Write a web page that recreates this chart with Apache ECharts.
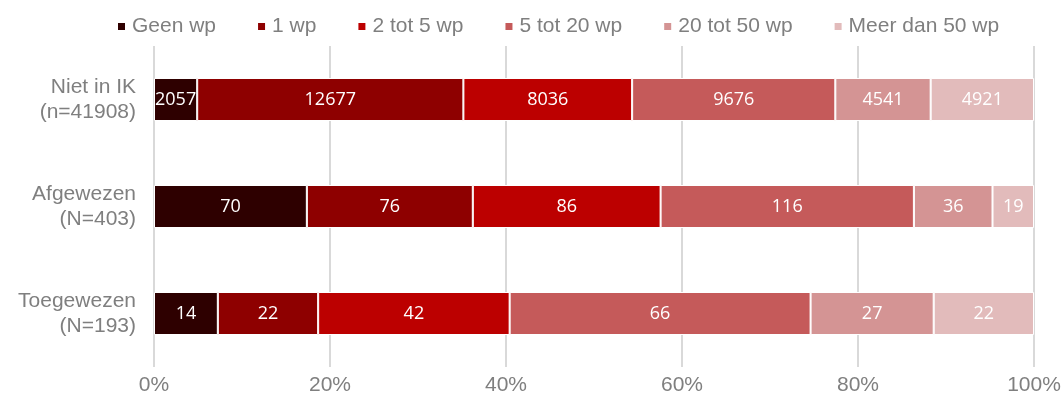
<!DOCTYPE html>
<html><head><meta charset="utf-8">
<script src="https://cdn.jsdelivr.net/npm/echarts@6/dist/echarts.min.js"></script>
<style>html,body{margin:0;padding:0;background:#fff}#c{width:1064px;height:400px}</style>
</head><body><div id="c"></div>
<script>
const categories = ['Niet in IK\n(n=41908)', 'Afgewezen\n(N=403)', 'Toegewezen\n(N=193)'];
const seriesNames = ['Geen wp', '1 wp', '2 tot 5 wp', '5 tot 20 wp', '20 tot 50 wp', 'Meer dan 50 wp'];
const geenWp = [2057, 70, 14];
const eenWp = [12677, 76, 22];
const tweeTot5 = [8036, 86, 42];
const vijfTot20 = [9676, 116, 66];
const twintigTot50 = [4541, 36, 27];
const meerDan50 = [4921, 19, 22];
const tickLabels = ['0%', '20%', '40%', '60%', '80%', '100%'];
const colors = ['#2E0000', '#8E0000', '#BC0000', '#C55A5A', '#D49494', '#E2BBBB'];

const counts = [geenWp, eenWp, tweeTot5, vijfTot20, twintigTot50, meerDan50];
const totals = categories.map((_, i) => counts.reduce((s, a) => s + a[i], 0));

const chart = echarts.init(document.getElementById('c'), null, {renderer: 'canvas'});
chart.setOption({
  animation: false,
  color: colors,
  legend: {
    top: 11, left: 111,
    itemWidth: 9, itemHeight: 9, itemGap: 40,
    icon: 'rect',
    textStyle: {fontFamily: 'Liberation Sans', fontSize: 21, color: '#7F7F7F', padding: [0,0,0,1]},
    data: seriesNames
  },
  grid: {left: 154, right: 30, top: 46, bottom: 33},
  xAxis: {
    type: 'value', min: 0, max: 100, interval: 20,
    axisLine: {show: false}, axisTick: {show: false},
    splitLine: {lineStyle: {color: '#D9D9D9', width: 2}},
    axisLabel: {
      margin: 8, fontFamily: 'Liberation Sans', fontSize: 21, color: '#7F7F7F',
      formatter: v => tickLabels[Math.round(v / 20)]
    }
  },
  yAxis: {
    type: 'category', inverse: true, data: categories,
    axisLine: {show: false}, axisTick: {show: false},
    axisLabel: {
      margin: 18, fontFamily: 'Liberation Sans', fontSize: 21, color: '#7F7F7F',
      lineHeight: 25, align: 'right'
    }
  },
  series: seriesNames.map((name, k) => ({
    name, type: 'bar', stack: 'total', barWidth: 43,
    itemStyle: {borderColor: '#fff', borderWidth: 1},
    label: {
      show: true, position: 'inside', color: '#fff',
      fontFamily: 'Open Sans', fontSize: 18,
      formatter: p => String(counts[k][p.dataIndex])
    },
    data: counts[k].map((v, i) => v / totals[i] * 100)
  }))
});
</script></body></html>
